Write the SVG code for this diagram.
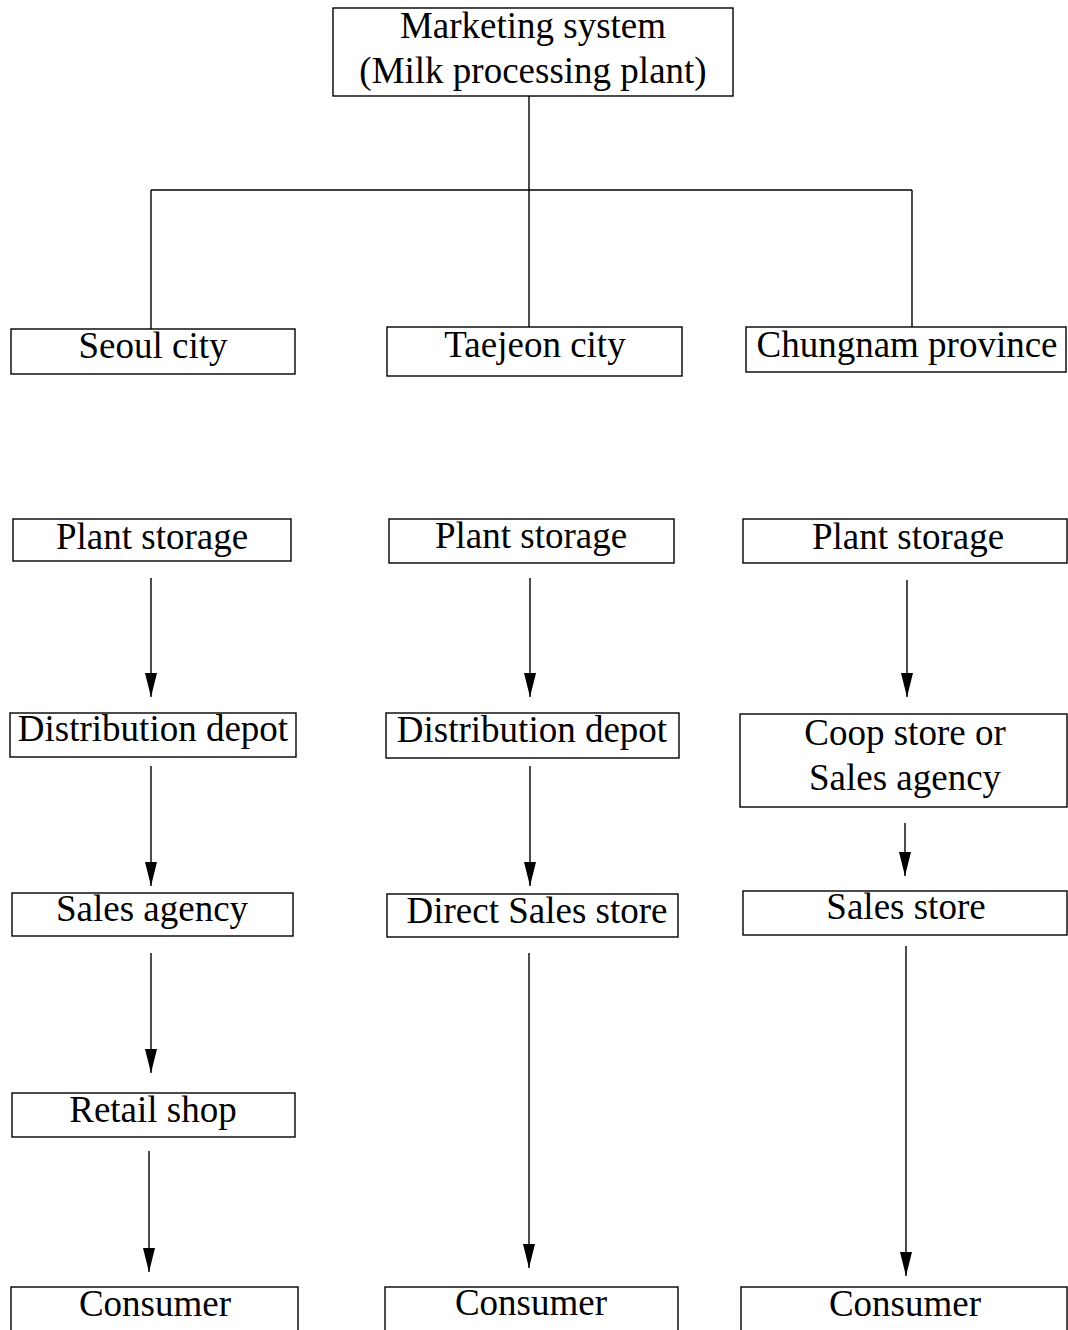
<svg xmlns="http://www.w3.org/2000/svg" width="1068" height="1330" viewBox="0 0 1068 1330">
  <style>
    .box { fill: #ffffff; stroke: #000000; stroke-width: 1.4; }
    .lbl { font-family: "Liberation Serif", "Times New Roman", serif; font-size: 37px; fill: #000000; text-anchor: middle; }
    .wire { fill: none; stroke: #000000; stroke-width: 1.4; }
    .flow { fill: none; stroke: #000000; stroke-width: 1.4; marker-end: url(#head); }
  </style>
  <defs>
    <marker id="head" viewBox="0 0 24 12" refX="24" refY="6" markerWidth="24" markerHeight="12" markerUnits="userSpaceOnUse" orient="auto">
      <path d="M0,0 L24,6 L0,12 Z" fill="#000000"/>
    </marker>
  </defs>
  <rect width="1068" height="1330" fill="#ffffff"/>

  <!-- tree links and flow arrows -->
  <g id="connectors">
    <path class="wire" d="M529,96 V190 M151,190 H912 M151,190 V329 M529,190 V327 M912,190 V327"/>
    <line class="flow" x1="151" y1="578" x2="151" y2="697"/>
    <line class="flow" x1="530" y1="578" x2="530" y2="697"/>
    <line class="flow" x1="907" y1="580" x2="907" y2="697"/>
    <line class="flow" x1="151" y1="766" x2="151" y2="886"/>
    <line class="flow" x1="530" y1="766" x2="530" y2="886"/>
    <line class="flow" x1="905" y1="823" x2="905" y2="876"/>
    <line class="flow" x1="151" y1="953" x2="151" y2="1073"/>
    <line class="flow" x1="529" y1="953" x2="529" y2="1268"/>
    <line class="flow" x1="906" y1="946" x2="906" y2="1276"/>
    <line class="flow" x1="149" y1="1151" x2="149" y2="1272"/>
  </g>

  <g id="marketing-system">
    <rect class="box" x="333" y="8" width="400" height="88"/>
    <text class="lbl" x="533" y="38">Marketing system</text>
    <text class="lbl" x="533" y="83">(Milk processing plant)</text>
  </g>

  <!-- regions -->
  <g id="seoul-city">
    <rect class="box" x="11" y="329" width="284" height="45"/>
    <text class="lbl" x="153" y="358">Seoul city</text>
  </g>
  <g id="taejeon-city">
    <rect class="box" x="387" y="327" width="295" height="49"/>
    <text class="lbl" x="535" y="357">Taejeon city</text>
  </g>
  <g id="chungnam-province">
    <rect class="box" x="746" y="327" width="320" height="45"/>
    <text class="lbl" x="907" y="357">Chungnam province</text>
  </g>

  <!-- Seoul chain -->
  <g id="seoul-plant-storage">
    <rect class="box" x="13" y="519" width="278" height="42"/>
    <text class="lbl" x="152" y="549">Plant storage</text>
  </g>
  <g id="seoul-distribution-depot">
    <rect class="box" x="10" y="713" width="286" height="44"/>
    <text class="lbl" x="153" y="741">Distribution depot</text>
  </g>
  <g id="seoul-sales-agency">
    <rect class="box" x="12" y="893" width="281" height="43"/>
    <text class="lbl" x="152" y="921">Sales agency</text>
  </g>
  <g id="seoul-retail-shop">
    <rect class="box" x="12" y="1093" width="283" height="44"/>
    <text class="lbl" x="153" y="1122">Retail shop</text>
  </g>
  <g id="seoul-consumer">
    <rect class="box" x="11" y="1287" width="287" height="60"/>
    <text class="lbl" x="155" y="1316">Consumer</text>
  </g>

  <!-- Taejeon chain -->
  <g id="taejeon-plant-storage">
    <rect class="box" x="389" y="519" width="285" height="44"/>
    <text class="lbl" x="531" y="548">Plant storage</text>
  </g>
  <g id="taejeon-distribution-depot">
    <rect class="box" x="386" y="713" width="293" height="45"/>
    <text class="lbl" x="532" y="742">Distribution depot</text>
  </g>
  <g id="taejeon-direct-sales-store">
    <rect class="box" x="387" y="894" width="291" height="43"/>
    <text class="lbl" x="537" y="923">Direct Sales store</text>
  </g>
  <g id="taejeon-consumer">
    <rect class="box" x="385" y="1287" width="293" height="60"/>
    <text class="lbl" x="531" y="1315">Consumer</text>
  </g>

  <!-- Chungnam chain -->
  <g id="chungnam-plant-storage">
    <rect class="box" x="743" y="519" width="324" height="44"/>
    <text class="lbl" x="908" y="549">Plant storage</text>
  </g>
  <g id="chungnam-coop-store">
    <rect class="box" x="740" y="714" width="327" height="93"/>
    <text class="lbl" x="905" y="745">Coop store or</text>
    <text class="lbl" x="905" y="790">Sales agency</text>
  </g>
  <g id="chungnam-sales-store">
    <rect class="box" x="743" y="891" width="324" height="44"/>
    <text class="lbl" x="906" y="919">Sales store</text>
  </g>
  <g id="chungnam-consumer">
    <rect class="box" x="741" y="1287" width="326" height="60"/>
    <text class="lbl" x="905" y="1316">Consumer</text>
  </g>
</svg>
